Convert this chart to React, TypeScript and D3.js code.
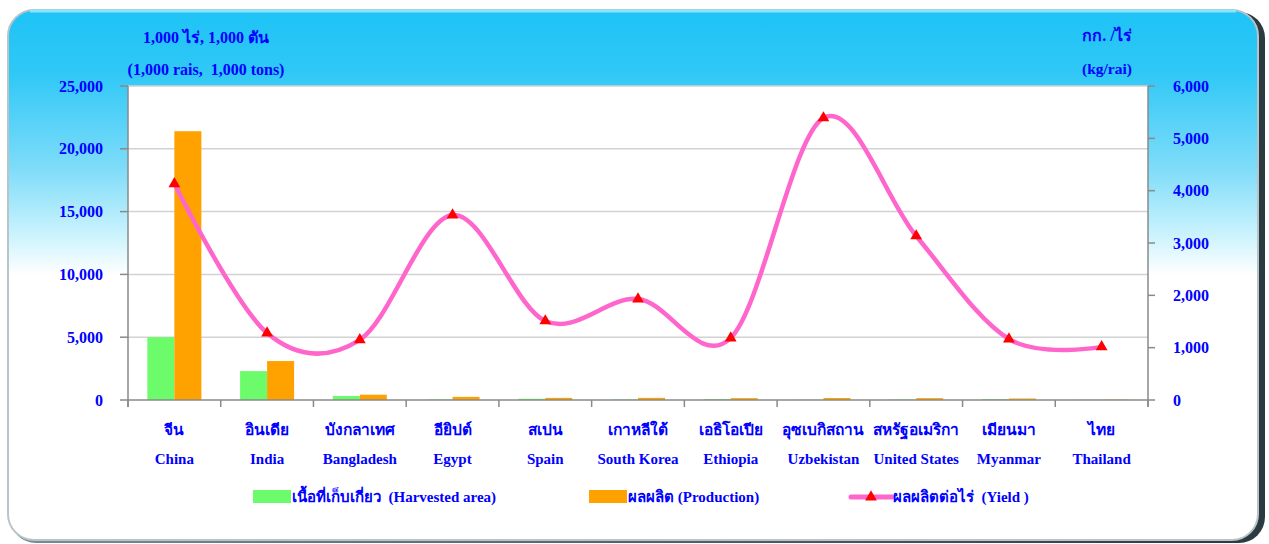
import React from "react";
import * as d3 from "d3";

const categoriesTh = ["จีน", "อินเดีย", "บังกลาเทศ", "อียิปต์", "สเปน", "เกาหลีใต้", "เอธิโอเปีย", "อุซเบกิสถาน", "สหรัฐอเมริกา", "เมียนมา", "ไทย"];
const categoriesEn = ["China", "India", "Bangladesh", "Egypt", "Spain", "South Korea", "Ethiopia", "Uzbekistan", "United States", "Myanmar", "Thailand"];
const harvestedArea = [5000, 2300, 320, 40, 100, 40, 80, 20, 40, 80, 20];
const production = [21400, 3100, 420, 250, 170, 170, 150, 160, 150, 120, 30];
const yieldPerRai = [4130, 1280, 1150, 3535, 1510, 1930, 1185, 5390, 3135, 1165, 1015];
const leftTicks = [0, 5000, 10000, 15000, 20000, 25000];
const rightTicks = [0, 1000, 2000, 3000, 4000, 5000, 6000];

const W = 1269, H = 544;
const L = 128, R = 1148, T = 86, B = 400;
const BLUE = "#0000ff";
const FONT = "'Times New Roman', 'Liberation Serif', serif";

export default function App() {
  const x = d3.scaleBand<string>().domain(categoriesEn).range([L, R]).padding(0);
  const inner = d3.scaleBand<string>().domain(["a", "p"]).range([0, x.bandwidth()]).paddingInner(0).paddingOuter(0.717);
  const yL = d3.scaleLinear().domain([0, 25000]).range([B, T]);
  const yR = d3.scaleLinear().domain([0, 6000]).range([B, T]);
  const fmt = d3.format(",");
  const pts: [number, number][] = categoriesEn.map((c, i) => [x(c)! + x.bandwidth() / 2, yR(yieldPerRai[i])]);
  const line = d3.line().curve(d3.curveCardinal.tension(0))(pts) || "";
  const tri = d3.symbol().type(d3.symbolTriangle).size(60)() || "";
  const boundaries = d3.range(categoriesEn.length + 1).map(i => L + i * x.step());

  return (
    <svg width={W} height={H} style={{ position: "absolute", left: 0, top: 0 }} fontFamily={FONT}>
      <defs>
        <linearGradient id="bg" x1="0" y1="0" x2="0" y2="1">
          <stop offset="0" stopColor="#1ec3f6" />
          <stop offset="0.12" stopColor="#30c8f6" />
          <stop offset="0.3" stopColor="#7fdcf9" />
          <stop offset="0.42" stopColor="#c8f2fd" />
          <stop offset="0.5" stopColor="#ffffff" />
          <stop offset="1" stopColor="#ffffff" />
        </linearGradient>
        <linearGradient id="rshade" x1="0" y1="0" x2="1" y2="0">
          <stop offset="0" stopColor="#7a8c94" />
          <stop offset="1" stopColor="#2b3a40" />
        </linearGradient>
      </defs>
      <rect x={0} y={0} width={W} height={H} fill="#ffffff" />
      {/* panel shadow */}
      <rect x={10} y={12} width={1255} height={531} rx={26} fill="url(#rshade)" />
      <rect x={8} y={10} width={1250} height={530} rx={26} fill="url(#bg)" stroke="#b8c4c8" strokeWidth={2} />
      <path d="M30,11 H1236" stroke="#8ee4fb" strokeWidth={3} />

      {/* plot area */}
      <rect x={L} y={T} width={R - L} height={B - T} fill="#ffffff" />
      {leftTicks.slice(1).map(t => (
        <line key={t} x1={L} x2={R} y1={yL(t)} y2={yL(t)} stroke="#d2d2d2" strokeWidth={1.5} />
      ))}

      {/* bars */}
      {categoriesEn.map((c, i) => (
        <g key={c}>
          <rect x={x(c)! + inner("a")!} y={yL(harvestedArea[i])} width={inner.bandwidth()} height={B - yL(harvestedArea[i])} fill="#6cfb6a" />
          <rect x={x(c)! + inner("p")!} y={yL(production[i])} width={inner.bandwidth()} height={B - yL(production[i])} fill="#ffa200" />
        </g>
      ))}

      {/* axes */}
      <line x1={L} x2={L} y1={T} y2={B + 7} stroke="#8a8a8a" strokeWidth={1.5} />
      <line x1={R} x2={R} y1={T} y2={B + 7} stroke="#8a8a8a" strokeWidth={1.5} />
      <line x1={L} x2={R} y1={B} y2={B} stroke="#8a8a8a" strokeWidth={1.5} />
      {leftTicks.map(t => (
        <g key={t}>
          <line x1={L - 8} x2={L} y1={yL(t)} y2={yL(t)} stroke="#8a8a8a" strokeWidth={1.5} />
          <text x={103} y={yL(t)} dy="0.35em" textAnchor="end" fontSize={16} fontWeight="bold" fill={BLUE}>{fmt(t)}</text>
        </g>
      ))}
      {rightTicks.map(t => (
        <g key={t}>
          <line x1={R} x2={R + 7} y1={yR(t)} y2={yR(t)} stroke="#8a8a8a" strokeWidth={1.5} />
          <text x={1173} y={yR(t)} dy="0.35em" textAnchor="start" fontSize={16} fontWeight="bold" fill={BLUE}>{fmt(t)}</text>
        </g>
      ))}
      {boundaries.map((b, i) => (
        <line key={i} x1={b} x2={b} y1={B} y2={B + 7} stroke="#8a8a8a" strokeWidth={1.5} />
      ))}

      {/* yield line */}
      <path d={line} fill="none" stroke="#ff66cc" strokeWidth={4.5} />
      {pts.map((p, i) => (
        <path key={i} d={tri} transform={`translate(${p[0]},${p[1]})`} fill="#ff0000" />
      ))}

      {/* category labels */}
      {categoriesEn.map((c, i) => (
        <g key={c} fontWeight="bold" fill={BLUE} textAnchor="middle">
          <text x={x(c)! + x.bandwidth() / 2} y={435} fontSize={15.5}>{categoriesTh[i]}</text>
          <text x={x(c)! + x.bandwidth() / 2} y={464} fontSize={15}>{c}</text>
        </g>
      ))}

      {/* axis titles */}
      <g fontWeight="bold" fill={BLUE} textAnchor="middle">
        <text x={206} y={43} fontSize={16}>1,000 ไร่,  1,000 ตัน</text>
        <text x={206} y={75} fontSize={16} style={{ whiteSpace: "pre" }}>(1,000 rais,  1,000 tons)</text>
        <text x={1107} y={41} fontSize={16}>กก. /ไร่</text>
        <text x={1107} y={74} fontSize={15.5}>(kg/rai)</text>
      </g>

      {/* legend */}
      <g fontWeight="bold" fill={BLUE} fontSize={15}>
        <rect x={253} y={490} width={38} height={13} fill="#6cfb6a" />
        <text x={292} y={502} style={{ whiteSpace: "pre" }}>เนื้อที่เก็บเกี่ยว  (Harvested area)</text>
        <rect x={589} y={490} width={38} height={13} fill="#ffa200" />
        <text x={628} y={502}>ผลผลิต (Production)</text>
        <line x1={851} x2={892} y1={497} y2={497} stroke="#ff66cc" strokeWidth={5} strokeLinecap="round" />
        <path d={tri} transform="translate(871,497)" fill="#ff0000" />
        <text x={893} y={502} style={{ whiteSpace: "pre" }}>ผลผลิตต่อไร่  (Yield )</text>
      </g>
    </svg>
  );
}
